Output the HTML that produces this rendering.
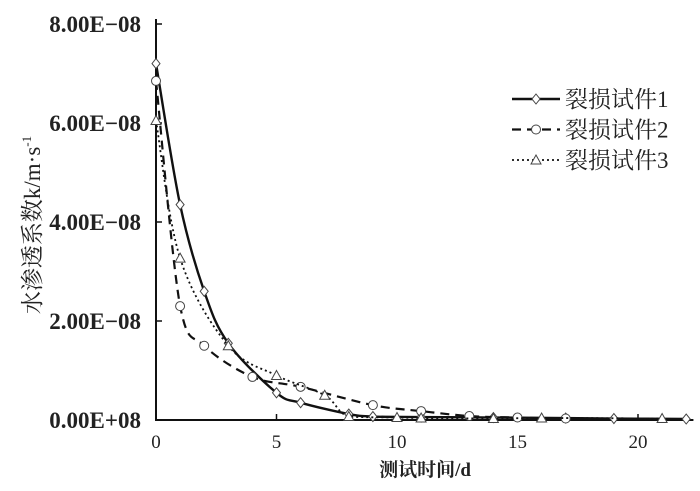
<!DOCTYPE html>
<html><head><meta charset="utf-8"><style>
body{margin:0;background:#fff;}
svg{display:block;}
text{font-family:"Liberation Serif","Noto Serif CJK SC",serif;fill:#222;}
</style></head><body>
<svg id="chart" width="700" height="491" viewBox="0 0 700 491" xmlns="http://www.w3.org/2000/svg">
<g id="axes"></g>
<g id="series"></g>
<g id="legend"></g>
</svg>
<script>
const xTicks=[0,5,10,15,20];
const yTicks=[0,2,4,6,8];
const yTickLabels=["0.00E+08","2.00E−08","4.00E−08","6.00E−08","8.00E−08"];
const s1x=[0,1,2,3,5,6,8,9,11,14,17,19,22];
const s1y=[7.2,4.35,2.6,1.55,0.55,0.35,0.12,0.07,0.06,0.05,0.04,0.03,0.02];
const s2x=[0,1,2,4,6,9,11,13,15,17];
const s2y=[6.85,2.3,1.5,0.87,0.67,0.3,0.18,0.08,0.05,0.03];
const s3x=[0,1,3,5,7,8,10,11,14,16,21];
const s3y=[6.05,3.27,1.5,0.9,0.5,0.07,0.05,0.04,0.03,0.04,0.03];
const seriesNames=["裂损试件1","裂损试件2","裂损试件3"];

const NS="http://www.w3.org/2000/svg";
const X=v=>156+v*24.1;
const Y=v=>420-v*49.5;
function mk(tag,attrs,parent){const e=document.createElementNS(NS,tag);for(const k in attrs)e.setAttribute(k,attrs[k]);parent.appendChild(e);return e;}
const axes=document.getElementById('axes');
let a=mk('path',{d:`M${X(0)},${Y(8.1)} V${Y(0)} H${X(22.3)}`,stroke:'#111','stroke-width':2,fill:'none'},axes);


xTicks.forEach(t=>{
 let l=mk('line',{x1:X(t),x2:X(t),y1:Y(0),y2:Y(0)-6,stroke:'#111','stroke-width':1.5},axes);
 
 
 let tx=mk('text',{x:X(t),y:448,'text-anchor':'middle','font-size':19},axes);tx.textContent=t;
 
 
});
yTicks.forEach((t,i)=>{
 let l=mk('line',{x1:X(0),x2:X(0)+6,y1:Y(t),y2:Y(t),stroke:'#111','stroke-width':1.5},axes);
 
 
 let tx=mk('text',{x:141,y:Y(t)+8,'text-anchor':'end','font-size':23,'font-weight':'bold'},axes);tx.textContent=yTickLabels[i];
 
 
});
let xt=mk('text',{x:425,y:476,'text-anchor':'middle','font-size':19,'font-weight':'bold'},axes);xt.textContent="测试时间/d";


let yt=mk('text',{x:0,y:0,'text-anchor':'middle','font-size':23,transform:'translate(40,225) rotate(-90)'},axes);
yt.innerHTML='水渗透系数k/m·s<tspan dy="-9" font-size="13">-1</tspan>';



function smooth(xs,ys){
 const p=xs.map((x,i)=>[X(x),Y(ys[i])]);let d=`M${p[0][0]},${p[0][1]}`;
 for(let i=0;i<p.length-1;i++){const p0=p[i-1]||p[i],p1=p[i],p2=p[i+1],p3=p[i+2]||p2;
  let c1y=p1[1]+(p2[1]-p0[1])/6,c2y=p2[1]-(p3[1]-p1[1])/6;
  const lo=Math.min(p1[1],p2[1]),hi=Math.max(p1[1],p2[1]);
  c1y=Math.max(lo,Math.min(hi,c1y));c2y=Math.max(lo,Math.min(hi,c2y));
  d+=` C${p1[0]+(p2[0]-p0[0])/6},${c1y} ${p2[0]-(p3[0]-p1[0])/6},${c2y} ${p2[0]},${p2[1]}`;}
 return d;}
function marker(type,x,y,g){
 let m;
 if(type==='d')m=mk('path',{d:`M${x},${y-5}L${x+4},${y}L${x},${y+5}L${x-4},${y}Z`},g);
 else if(type==='c')m=mk('circle',{cx:x,cy:y,r:4.5},g);
 else m=mk('path',{d:`M${x},${y-5}L${x+5},${y+4}L${x-5},${y+4}Z`},g);
 m.setAttribute('fill','#fff');m.setAttribute('stroke','#444');m.setAttribute('stroke-width',1);
 
 
}
const sg=document.getElementById('series');
const defs=[[s1x,s1y,'d','none',2.4],[s2x,s2y,'c','9,6',2.2],[s3x,s3y,'t','2,3',1.8]];
defs.forEach((s,k)=>{
 const g=mk('g',{},sg);
 
 
 const p=mk('path',{d:smooth(s[0],s[1]),stroke:'#111','stroke-width':s[4],fill:'none','stroke-dasharray':s[3]},g);
 
 
 s[0].forEach((x,i)=>marker(s[2],X(x),Y(s[1][i]),g));
});
const lg=document.getElementById('legend');
defs.forEach((s,k)=>{
 const y=99+k*30.5;
 const g=mk('g',{},lg);
 
 
 mk('line',{x1:512,x2:560,y1:y,y2:y,stroke:'#111','stroke-width':s[4],'stroke-dasharray':s[3]},g);
 marker(s[2],536,y,g);
 const t=mk('text',{x:565,y:y+8,'font-size':23},g);t.textContent=seriesNames[k];
});
</script>
</body></html>
